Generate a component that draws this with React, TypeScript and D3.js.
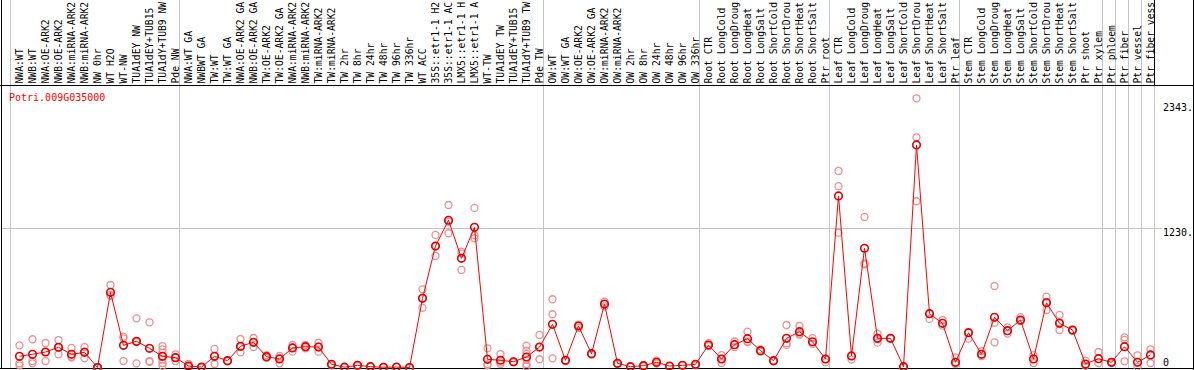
import React from "react";
import * as d3 from "d3";

// sample names, cut to 14 characters as the reference shows them
const labels = [
  "NWA:WT", "NWB:WT", "NWA:OE-ARK2", "NWB:OE-ARK2", "NWA:miRNA-ARK2", "NWB:miRNA-ARK2",
  "NW 0hr", "WT H2O", "WT-NW", "TUA1dEY NW", "TUA1dEY+TUB15", "TUA1dY+TUB9 NW", "Pde NW",
  "NWA:WT GA", "NWBWT GA", "TW:WT", "TW:WT GA", "NWA:OE-ARK2 GA", "NWB:OE-ARK2 GA",
  "TW:OE-ARK2", "TW:OE-ARK2 GA", "NWA:miRNA-ARK2", "NWB:miRNA-ARK2", "TW:miRNA-ARK2",
  "TW:miRNA-ARK2", "TW 2hr", "TW 8hr", "TW 24hr", "TW 48hr", "TW 96hr", "TW 336hr", "WT ACC",
  "35S::etr1-1 H2", "35S::etr1-1 AC", "LMX5::etr1-1 H", "LMX5::etr1-1 A", "WT-TW",
  "TUA1dEY TW", "TUA1dEY+TUB15", "TUA1dY+TUB9 TW", "Pde TW",
  "OW:WT", "OW:WT GA", "OW:OE-ARK2", "OW:OE-ARK2 GA", "OW:miRNA-ARK2", "OW:miRNA-ARK2",
  "OW 2hr", "OW 8hr", "OW 24hr", "OW 48hr", "OW 96hr", "OW 336hr",
  "Root CTR", "Root LongCold", "Root LongDroug", "Root LongHeat", "Root LongSalt",
  "Root ShortCold", "Root ShortDrou", "Root ShortHeat", "Root ShortSalt", "Ptr root",
  "Leaf CTR", "Leaf LongCold", "Leaf LongDroug", "Leaf LongHeat", "Leaf LongSalt",
  "Leaf ShortCold", "Leaf ShortDrou", "Leaf ShortHeat", "Leaf ShortSalt", "Ptr leaf",
  "Stem CTR", "Stem LongCold", "Stem LongDroug", "Stem LongHeat", "Stem LongSalt",
  "Stem ShortCold", "Stem ShortDrou", "Stem ShortHeat", "Stem ShortSalt", "Ptr shoot",
  "Ptr xylem", "Ptr phloem", "Ptr fiber", "Ptr vessel", "Ptr fiber vess",
];

// mean expression per sample
const means = [
  99, 117, 137, 179, 117, 134, 0, 665, 196, 232, 170, 99, 87,
  13, 4, 99, 60, 188, 223, 96, 75, 173, 184, 181, 28, 3, 19, 7, 2, 4, 0,
  612, 1075, 1303, 966, 1240, 72, 64, 51, 93, 181,
  382, 64, 367, 122, 561, 37, 7, 16, 46, 13, 19, 28,
  199, 75, 202, 255, 149, 60, 258, 317, 228, 75,
  1518, 102, 1055, 258, 258, 7, 1969, 476, 391, 46,
  308, 117, 444, 326, 420, 75, 573, 391, 332, 31, 78,
  46, 184, 46, 111,
];

// replicate values per sample
const replicates = [
  [196, 37, 19], [250, 57, 37], [217, 57, 137], [243, 117, 179], [173, 87, 95], [181, 81, 140],
  [0, 4, 0], [730, 635, 640], [273, 57, 258], [435, 37, 225], [400, 57, 50],
  [190, 161, 131, 100, 70, 40, 15], [117, 57, 90],
  [31, 5], [4, 2], [164, 31, 100], [60, 55], [252, 134, 180], [261, 181, 225], [110, 90, 85],
  [102, 37, 85], [200, 140, 175], [200, 170, 184], [219, 140, 185], [28, 20], [3], [22, 15],
  [7], [2], [4], [0], [692, 529, 615], [1173, 987, 1070], [1438, 1188, 1290],
  [1025, 863, 1010], [1412, 1143, 1170], [170, 20, 30], [119, 30, 45], [51, 45],
  [193, 150, 120, 70, 30, 10], [288, 73, 181],
  [604, 471, 81], [64, 55], [370, 350, 380], [122, 115], [582, 540, 560], [37, 30], [7],
  [18, 12], [60, 35], [13], [19], [28, 20],
  [215, 190], [110, 40, 75], [230, 180], [317, 225, 230], [160, 140], [60, 55],
  [376, 215, 200], [367, 290, 300], [260, 210], [75, 45],
  [1739, 1604, 1193], [102, 70], [1332, 913, 920], [300, 220, 250], [258, 255], [7, 5],
  [2382, 2037, 1471], [476, 430], [420, 370], [90, 30],
  [308, 255], [145, 100], [721, 396, 223], [355, 300], [445, 410], [110, 40],
  [627, 509, 580], [465, 332, 400], [332, 325], [60, 15], [137, 40],
  [50, 40], [267, 245, 55], [108, 5], [161, 40],
];

// index of the first sample in each group (grey separators)
const groupStarts = [0, 13, 41, 53, 63, 73, 84, 85, 86, 87, 88];
const yTicks = [0, 1230, 2343];
const title = "Potri.009G035000";

const W = 1194;
const H = 370;
const mono = "'DejaVu Sans Mono', 'Liberation Mono', monospace";

export default function App() {
  const idx = d3.range(labels.length);
  const x = d3.scaleBand<number>().domain(d3.range(labels.length + 1)).range([10, 10 + 13 * (labels.length + 1)]).padding(0);
  const px = (i: number) => (x(i) as number) + 9.5;
  const y = d3.scaleLinear().domain([0, 2343]).range([367.5, 102.7]);

  const line = d3
    .line<number>()
    .x((i) => px(i))
    .y((i) => y(means[i]));

  return (
    <svg width={W} height={H} style={{ position: "absolute", left: 0, top: 0, background: "#fff" }}>
      {/* grey separators */}
      {groupStarts.map((g) => (
        <line key={"g" + g} x1={(x(g) as number) + 0.5} x2={(x(g) as number) + 0.5} y1={0} y2={368}
          stroke="#c4c4c4" strokeWidth={1} />
      ))}
      {/* 1230 gridline */}
      <line x1={1} x2={1162} y1={Math.round(y(1230)) + 0.5} y2={Math.round(y(1230)) + 0.5} stroke="#c4c4c4" />

      {/* frame */}
      <line x1={1.5} x2={1.5} y1={0} y2={369} stroke="#000" />
      <line x1={0} x2={W} y1={85.5} y2={85.5} stroke="#000" />
      <line x1={0} x2={W} y1={368.5} y2={368.5} stroke="#000" />
      <line x1={W - 0.5} x2={W - 0.5} y1={0} y2={H} stroke="#000" />
      <line x1={(x(88) as number) + 0.5} x2={(x(88) as number) + 0.5} y1={0} y2={85} stroke="#000" />

      {/* sample labels */}
      {idx.map((i) => (
        <text key={"l" + i} transform={`translate(${px(i) + 3},83.5) rotate(-90)`}
          fontFamily={mono} fontSize={9.7} fill="#000">{labels[i]}</text>
      ))}

      <text x={9} y={101} fontFamily={mono} fontSize={10} fill="#ff0000">{title}</text>

      {/* y tick labels */}
      {yTicks.map((t) => (
        <text key={"t" + t} x={1163} y={Math.min(y(t) + 8, 366)} fontFamily={mono} fontSize={10} fill="#000">
          {t === 0 ? "0" : t + "."}
        </text>
      ))}

      {/* replicates */}
      {idx.map((i) =>
        replicates[i].map((v, j) => (
          <circle key={`r${i}-${j}`} cx={px(i)} cy={y(v)} r={3.5} fill="none" stroke="#ec8f8f" strokeWidth={1.3} />
        ))
      )}

      {/* mean line */}
      <path d={line(idx) as string} fill="none" stroke="#ff0000" strokeWidth={1} />
      {idx.map((i) => (
        <circle key={"m" + i} cx={px(i)} cy={y(means[i])} r={3.8} fill="none" stroke="#e00000" strokeWidth={1.6} />
      ))}
    </svg>
  );
}
